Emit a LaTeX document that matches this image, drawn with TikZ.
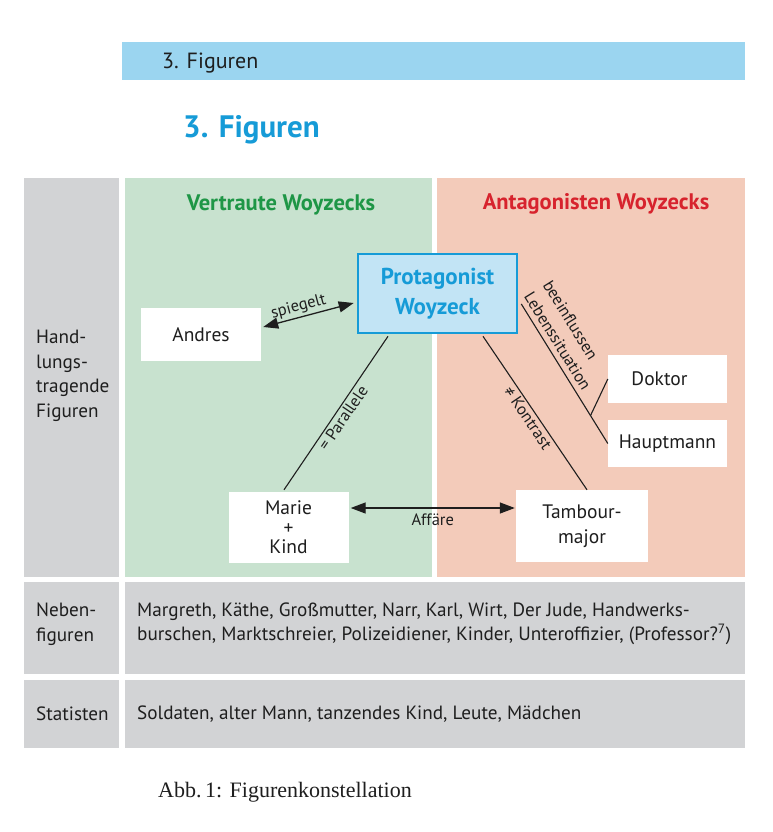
\documentclass[tikz,border=0pt]{standalone}
\usepackage{fontspec}
\setmainfont{PT Sans}
\newfontfamily\capfont{Liberation Serif}
\usetikzlibrary{arrows.meta,calc}
\definecolor{topbar}{RGB}{155,213,240}
\definecolor{tblue}{RGB}{22,155,215}
\definecolor{cellgray}{RGB}{210,211,213}
\definecolor{pgreen}{RGB}{200,226,207}
\definecolor{ppink}{RGB}{243,203,186}
\definecolor{protfill}{RGB}{194,228,245}
\definecolor{tgreen}{RGB}{30,150,70}
\definecolor{tred}{RGB}{215,35,45}
\definecolor{ink}{RGB}{30,30,30}
\begin{document}
\begin{tikzpicture}[x=1pt,y=-1pt,
  txt/.style={inner sep=0pt, text=ink, font=\fontsize{19.2}{24.5}\selectfont},
  wbox/.style={fill=white, inner sep=0pt, align=center, text=ink, font=\fontsize{19.5}{20}\selectfont},
  protbox/.style={fill=protfill, draw=tblue, line width=2.6pt, inner sep=0pt, align=center, text=tblue, font=\bfseries\fontsize{23}{30}\selectfont},
  conn/.style={draw=ink, line width=1.1pt},
  dbl/.style={conn, line width=1.3pt, {Triangle[length=15pt,width=11pt]}-{Triangle[length=15pt,width=11pt]}},
  lbl/.style={inner sep=2pt, text=ink, font=\fontsize{16.5}{21}\selectfont}
]
\useasboundingbox (0,0) rectangle (773,832);
\fill[white] (0,0) rectangle (773,832);
% header bar
\fill[topbar] (122,42) rectangle (745,80);
\node[txt, anchor=west, font=\fontsize{22}{24}\selectfont] (hdr) at (162,63) {3. Figuren};
\node[inner sep=0pt, anchor=west, text=tblue, font=\bfseries\fontsize{31}{34}\selectfont] (title) at (183,130) {3. Figuren};
% table cells
\fill[cellgray] (24,178) rectangle (119,577);
\fill[pgreen] (125,178) rectangle (432,577);
\fill[ppink] (437,178) rectangle (745,577);
\fill[cellgray] (24,582) rectangle (119,674);
\fill[cellgray] (125,582) rectangle (745,674);
\fill[cellgray] (24,680) rectangle (119,748);
\fill[cellgray] (125,680) rectangle (745,748);
% column headers
\node[inner sep=0pt, text=tgreen, font=\bfseries\fontsize{22.5}{24}\selectfont] (hgreen) at (281,205) {Vertraute Woyzecks};
\node[inner sep=0pt, text=tred, font=\bfseries\fontsize{22.5}{24}\selectfont] (hred) at (596,204) {Antagonisten Woyzecks};
% row labels
\node[txt, anchor=west, align=left] (r1) at (36,376) {Hand-\\lungs-\\tragende\\Figuren};
\node[txt, anchor=west, align=left] (r2) at (36,624) {Neben-\\figuren};
\node[txt, anchor=west, align=left] (r3) at (36,714) {Statisten};
\node[txt, anchor=west, align=left] (c2) at (137,624) {Margreth, Käthe, Großmutter, Narr, Karl, Wirt, Der Jude, Handwerks-\\burschen, Marktschreier, Polizeidiener, Kinder, Unteroffizier, (Professor?\textsuperscript{7})};
\node[txt, anchor=west, align=left] (c3) at (137,714) {Soldaten, alter Mann, tanzendes Kind, Leute, Mädchen};
% boxes
\node[protbox, minimum width=159pt, minimum height=79pt] (prot) at (437.5,293.5) {Protagonist\\Woyzeck};
\node[wbox, minimum width=120pt, minimum height=53pt] (andres) at (201,334.5) {Andres};
\node[wbox, minimum width=119pt, minimum height=48pt] (doktor) at (667.5,379) {\hspace*{-16pt}Doktor};
\node[wbox, minimum width=119pt, minimum height=47pt] (haupt) at (667.5,443.5) {Hauptmann};
\node[wbox, minimum width=120pt, minimum height=71pt, font=\fontsize{19.5}{19.5}\selectfont] (marie) at (288.5,527.5) {Marie\\+\\Kind};
\node[wbox, minimum width=132pt, minimum height=72pt, font=\fontsize{19.5}{25}\selectfont] (tamb) at (582,526) {Tambour-\\major};
% connectors
\draw[dbl] ($(andres.east)+(2,-7.5)$) -- node[lbl, sloped, above, pos=0.42] {spiegelt} ($(prot.west)+(-3,9.5)$);
\draw[conn] ($(prot.south)+(-49.5,2)$) -- node[lbl, sloped, below, pos=0.5] {= Parallele} ($(marie.north)+(-4.5,-2)$);
\draw[conn] ($(prot.south)+(45.5,2)$) -- node[lbl, sloped, below, pos=0.5] {≠ Kontrast} ($(tamb.north)+(5,0)$);
\draw[conn] ($(prot.east)+(3,10.5)$) -- node[lbl, sloped, above, pos=0.31, align=left, inner sep=5pt, font=\fontsize{16.5}{22}\selectfont] {beeinflussen\\Lebenssituation} coordinate[pos=0.8] (br) (haupt.west);
\draw[conn] (br) -- (doktor.west);
\draw[dbl] ($(marie.east)+(2,-19.5)$) -- node[lbl, below, pos=0.5, yshift=-3pt] {Affäre} ($(tamb.west)+(-1,-18)$);
% caption
\node[inner sep=0pt, anchor=west, text=ink, font=\capfont\fontsize{22}{24}\selectfont] (cap) at (158,792) {Abb.\,1: Figurenkonstellation};
\end{tikzpicture}
\end{document}
